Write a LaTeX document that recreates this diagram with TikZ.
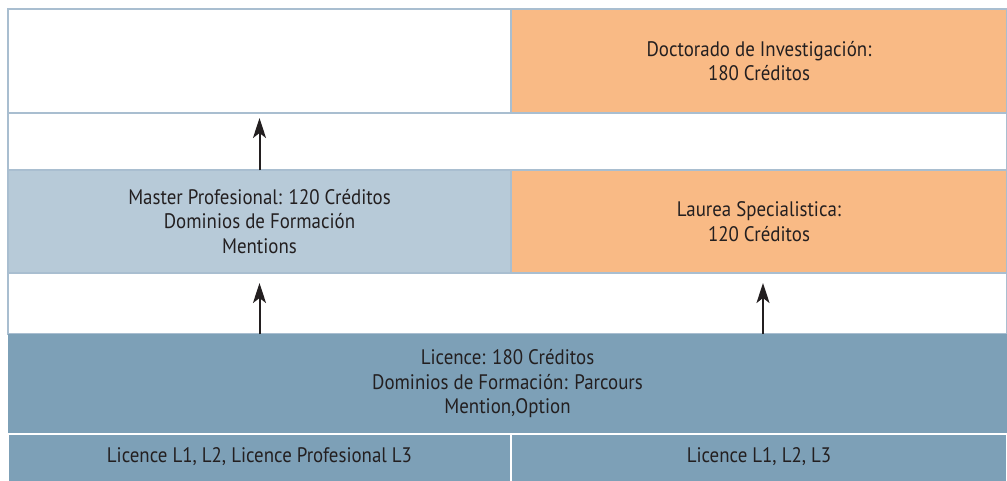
\documentclass[tikz,border=0pt]{standalone}
\usepackage{fontspec}
\setmainfont{PT Sans}[FakeStretch=0.9]
\usepackage{xcolor}
\usetikzlibrary{arrows.meta,positioning}

\definecolor{peach}{HTML}{F9BA85}
\definecolor{paleblue}{HTML}{B7CAD8}
\definecolor{slateblue}{HTML}{7DA0B7}
\definecolor{rulegray}{HTML}{A9BED0}
\definecolor{ink}{HTML}{231F20}

\begin{document}
\begin{tikzpicture}[x=1pt, y=-1pt, >={Stealth[length=20pt,width=13pt,inset=5pt]},
  cell/.style={draw=rulegray, line width=1.4pt, inner sep=0pt, outer sep=0pt, anchor=north west,
    align=center, text=ink, font=\fontsize{21}{24.5}\selectfont},
  link/.style={->, draw=ink, fill=ink, line width=2pt}]
\useasboundingbox (0,0) rectangle (1007,480);

% upper row
\node[cell, minimum width=503pt, minimum height=104pt] (blank) at (8,9) {};
\node[cell, fill=peach, minimum width=496pt, minimum height=104pt] (doct) at (511,9) {Doctorado de Investigación:\\180 Créditos};
\node[cell, minimum width=999pt, minimum height=57pt] (gapA) at (8,113) {};

% middle row
\node[cell, fill=paleblue, minimum width=503pt, minimum height=103pt] (mast) at (8,170) {Master Profesional: 120 Créditos\\Dominios de Formación\\Mentions};
\node[cell, fill=peach, minimum width=496pt, minimum height=103pt] (laur) at (511,170) {Laurea Specialistica:\\120 Créditos};
\node[cell, minimum width=999pt, minimum height=61pt] (gapB) at (8,273) {};

% licence
\node[cell, draw=none, fill=slateblue, minimum width=999pt, minimum height=100pt] (lic) at (8,334) {Licence: 180 Créditos\\Dominios de Formación: Parcours\\Mention,Option};
\node[cell, draw=white, line width=1.6pt, fill=slateblue, minimum width=503pt, minimum height=60pt] (lone) at (8,434) {};
\node[cell, draw=white, line width=1.6pt, fill=slateblue, minimum width=496pt, minimum height=60pt] (ltwo) at (511,434) {};
\node[cell, draw=none, anchor=center] (lonetext) at ([yshift=-23pt]lone.north) {Licence L1, L2, Licence Profesional L3};
\node[cell, draw=none, anchor=center] (ltwotext) at ([yshift=-23pt]ltwo.north) {Licence L1, L2, L3};

% arrows
\draw[link, shorten >=5pt] (mast.north) -- (blank.south);
\draw[link, shorten >=10pt] (lic.north -| mast.south) -- (mast.south);
\draw[link, shorten >=10pt] ([xshift=4pt]lic.north -| laur.south) -- ([xshift=4pt]laur.south);
\end{tikzpicture}
\end{document}
